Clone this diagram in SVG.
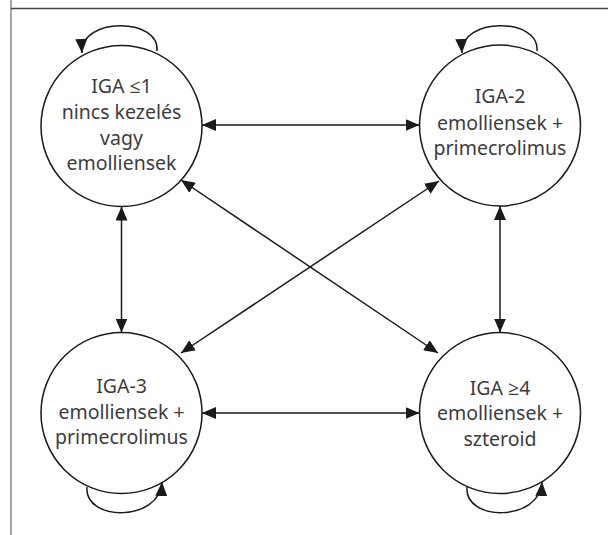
<svg xmlns="http://www.w3.org/2000/svg" width="608" height="535" viewBox="0 0 608 535">
<style>
.node circle{fill:#fff;stroke:#1a1a1a;stroke-width:1.5}
.node text{font-family:"Noto Sans","Open Sans",sans-serif;font-size:19.5px;fill:#3c3c3c;text-anchor:middle}
.conn line,.conn path{fill:none;stroke:#1a1a1a;stroke-width:1.5}
.frame{stroke-width:1.5}
</style>
<defs>
<marker id="ah" viewBox="0 0 14 12" refX="14" refY="6" markerWidth="14" markerHeight="12" markerUnits="userSpaceOnUse" orient="auto-start-reverse">
<path d="M0,0 L14,6 L0,12 Z" fill="#1a1a1a"/>
</marker>
</defs>
<rect width="608" height="535" fill="#fff"/>
<line class="frame" x1="11" y1="0" x2="11" y2="535" stroke="#888"/>
<line class="frame" x1="11" y1="8.5" x2="608" y2="8.5" stroke="#444"/>

<g id="n1" class="node">
<circle cx="121.5" cy="126" r="80.5"/>
<text x="121.5" y="93">IGA ≤1</text>
<text x="121.5" y="119">nincs kezelés</text>
<text x="121.5" y="145">vagy</text>
<text x="121.5" y="170">emolliensek</text>
</g>
<g id="n2" class="node">
<circle cx="500" cy="125.5" r="80.5"/>
<text x="500" y="103">IGA-2</text>
<text x="500" y="130">emolliensek +</text>
<text x="500" y="155">primecrolimus</text>
</g>
<g id="n3" class="node">
<circle cx="121.5" cy="413" r="80.5"/>
<text x="121.5" y="393">IGA-3</text>
<text x="121.5" y="419">emolliensek +</text>
<text x="121.5" y="444">primecrolimus</text>
</g>
<g id="n4" class="node">
<circle cx="500" cy="413" r="80.5"/>
<text x="500" y="395">IGA ≥4</text>
<text x="500" y="420">emolliensek +</text>
<text x="500" y="446">szteroid</text>
</g>

<g id="connectors" class="conn">
<line x1="202" y1="125" x2="419.5" y2="125" marker-start="url(#ah)" marker-end="url(#ah)"/>
<line x1="202" y1="413" x2="419.5" y2="413" marker-start="url(#ah)" marker-end="url(#ah)"/>
<line x1="121.5" y1="206.5" x2="121.5" y2="332.5" marker-start="url(#ah)" marker-end="url(#ah)"/>
<line x1="500" y1="206" x2="500" y2="332.5" marker-start="url(#ah)" marker-end="url(#ah)"/>
<line x1="181" y1="180" x2="438" y2="353" marker-start="url(#ah)" marker-end="url(#ah)"/>
<line x1="439" y1="181" x2="181" y2="353" marker-start="url(#ah)" marker-end="url(#ah)"/>
<path d="M157,51 C160,17 80,17 82,53" marker-end="url(#ah)"/>
<path d="M537,51 C540,17 460,17 462,53" marker-end="url(#ah)"/>
<path d="M87,487 C84,522 160,522 162,482" marker-end="url(#ah)"/>
<path d="M467,487 C464,522 540,522 542,482" marker-end="url(#ah)"/>
</g>
</svg>
